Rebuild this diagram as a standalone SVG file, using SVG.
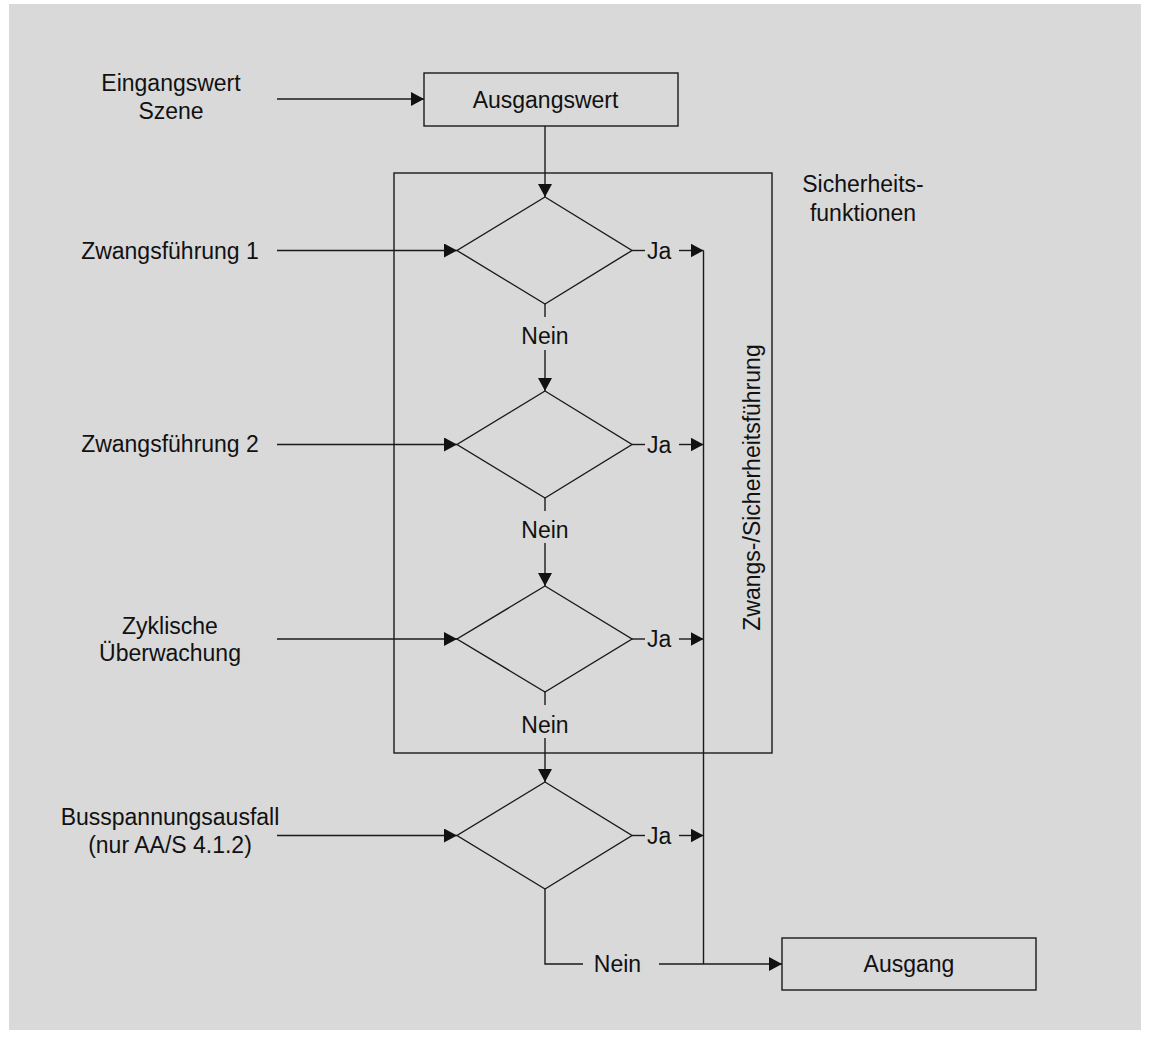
<svg xmlns="http://www.w3.org/2000/svg" width="1149" height="1038" viewBox="0 0 1149 1038">
<style>
.t{font-family:"Liberation Sans",Arial,sans-serif;font-size:23px;fill:#111;}
.m{text-anchor:middle;}
.s{fill:none;stroke:#1a1a1a;stroke-width:1.4;}
.b{fill:none;stroke:#1a1a1a;stroke-width:1.4;}
</style>
<defs>
<marker id="ah" markerUnits="userSpaceOnUse" markerWidth="14" markerHeight="14" refX="13" refY="7" orient="auto">
<path d="M0,0 L13,7 L0,14 z" fill="#111"/>
</marker>
</defs>
<rect x="0" y="0" width="1149" height="1038" fill="#ffffff"/>
<rect x="9" y="4" width="1132" height="1026" fill="#d9d9d9"/>

<g id="sicherheitsfunktionen">
<rect class="b" x="394" y="173" width="378" height="580"/>
<text class="t m" x="863" y="192">Sicherheits-</text>
<text class="t m" x="863" y="221">funktionen</text>
<text class="t m" x="759.5" y="487.5" transform="rotate(-90 759.5 487.5)">Zwangs-/Sicherheitsführung</text>
</g>

<g id="eingangswert">
<text class="t m" x="171" y="91">Eingangswert</text>
<text class="t m" x="171" y="119">Szene</text>
</g>
<g id="ausgangswert">
<rect class="b" x="424" y="73" width="254" height="53"/>
<text class="t m" x="545.5" y="108">Ausgangswert</text>
</g>

<g id="zwangsfuehrung1">
<text class="t m" x="170" y="259">Zwangsführung 1</text>
</g>
<g id="zwangsfuehrung2">
<text class="t m" x="170" y="452">Zwangsführung 2</text>
</g>
<g id="zyklisch">
<text class="t m" x="170" y="634">Zyklische</text>
<text class="t m" x="170" y="661">Überwachung</text>
</g>
<g id="busspannung">
<text class="t m" x="170" y="825">Busspannungsausfall</text>
<text class="t m" x="170" y="853">(nur AA/S 4.1.2)</text>
</g>

<g id="diamond1"><polygon class="b" points="545,197 632,250.5 545,304 457,250.5"/></g>
<g id="diamond2"><polygon class="b" points="545,391 632,444.5 545,498 457,444.5"/></g>
<g id="diamond3"><polygon class="b" points="545,586 632,639 545,692 457,639"/></g>
<g id="diamond4"><polygon class="b" points="545,782 632,835.5 545,889 457,835.5"/></g>

<g id="ausgang">
<rect class="b" x="782" y="938" width="254" height="52"/>
<text class="t m" x="909" y="972">Ausgang</text>
</g>

<g id="connectors">
<line class="s" x1="277" y1="99" x2="424" y2="99" marker-end="url(#ah)"/>
<line class="s" x1="545" y1="126" x2="545" y2="197" marker-end="url(#ah)"/>
<line class="s" x1="277" y1="250.5" x2="457" y2="250.5" marker-end="url(#ah)"/>
<line class="s" x1="277" y1="444.5" x2="457" y2="444.5" marker-end="url(#ah)"/>
<line class="s" x1="277" y1="639" x2="457" y2="639" marker-end="url(#ah)"/>
<line class="s" x1="277" y1="835.5" x2="457" y2="835.5" marker-end="url(#ah)"/>

<line class="s" x1="632" y1="250.5" x2="645" y2="250.5"/>
<text class="t" x="647" y="258.5">Ja</text>
<line class="s" x1="679" y1="250.5" x2="703.5" y2="250.5" marker-end="url(#ah)"/>
<line class="s" x1="632" y1="444.5" x2="645" y2="444.5"/>
<text class="t" x="647" y="452.5">Ja</text>
<line class="s" x1="679" y1="444.5" x2="703.5" y2="444.5" marker-end="url(#ah)"/>
<line class="s" x1="632" y1="639" x2="645" y2="639"/>
<text class="t" x="647" y="647">Ja</text>
<line class="s" x1="679" y1="639" x2="703.5" y2="639" marker-end="url(#ah)"/>
<line class="s" x1="632" y1="835.5" x2="645" y2="835.5"/>
<text class="t" x="647" y="843.5">Ja</text>
<line class="s" x1="679" y1="835.5" x2="703.5" y2="835.5" marker-end="url(#ah)"/>

<line class="s" x1="703.5" y1="250.5" x2="703.5" y2="964"/>

<line class="s" x1="545" y1="304" x2="545" y2="317"/>
<text class="t m" x="545" y="344">Nein</text>
<line class="s" x1="545" y1="350" x2="545" y2="391" marker-end="url(#ah)"/>
<line class="s" x1="545" y1="498" x2="545" y2="511"/>
<text class="t m" x="545" y="537.5">Nein</text>
<line class="s" x1="545" y1="543" x2="545" y2="586" marker-end="url(#ah)"/>
<line class="s" x1="545" y1="692" x2="545" y2="705"/>
<text class="t m" x="545" y="733">Nein</text>
<line class="s" x1="545" y1="738" x2="545" y2="782" marker-end="url(#ah)"/>

<polyline class="s" points="545,889 545,964 583,964"/>
<text class="t m" x="617.5" y="972">Nein</text>
<line class="s" x1="659" y1="964" x2="782" y2="964" marker-end="url(#ah)"/>
</g>
</svg>
